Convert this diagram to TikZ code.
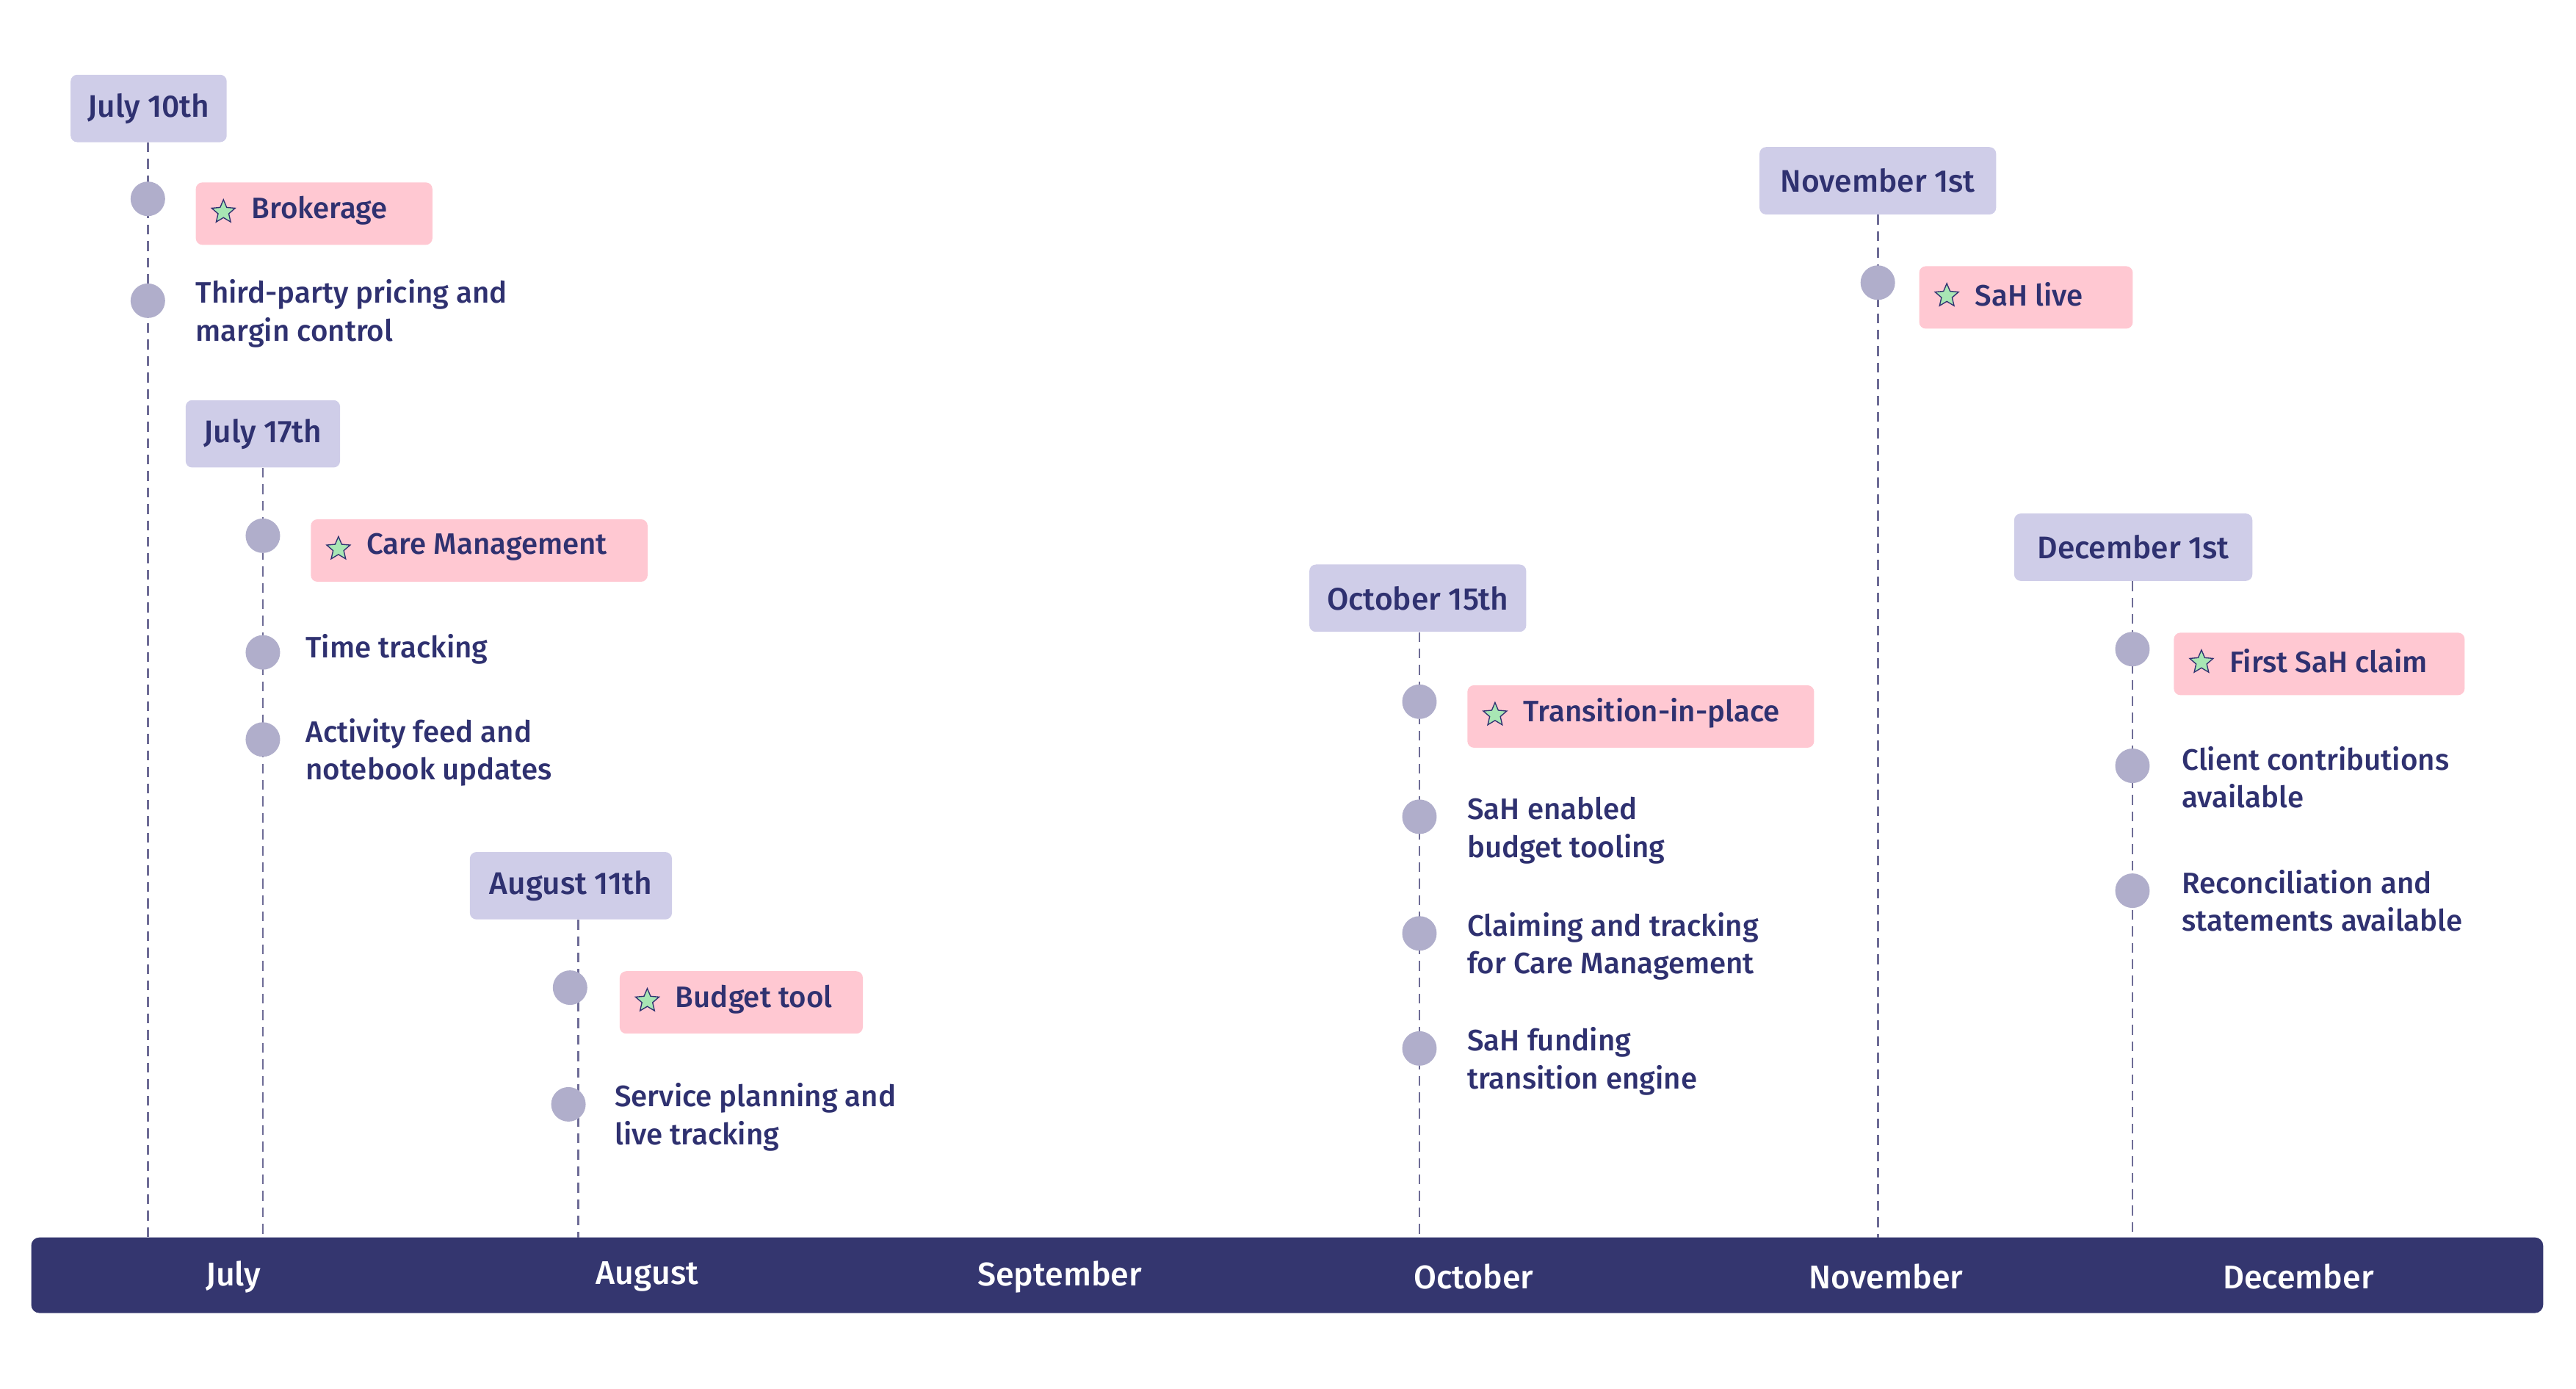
\documentclass[tikz,border=0pt]{standalone}
\usepackage{fontspec}
\setmainfont{Fira Sans}[UprightFont={* Medium},BoldFont={* SemiBold}]
\usetikzlibrary{shapes.geometric}
\definecolor{navy}{HTML}{34366F}
\definecolor{ink}{HTML}{2F3170}
\definecolor{datefill}{HTML}{CFCDE8}
\definecolor{pinkfill}{HTML}{FFC8D2}
\definecolor{dotc}{HTML}{B0AECB}
\definecolor{dashc}{HTML}{6E6C96}
\definecolor{starc}{HTML}{A8E6B4}
\begin{document}
\begin{tikzpicture}[x=1pt,y=-1pt,
  txt/.style={font=\fontsize{18}{23}\selectfont, text=ink, inner sep=0pt, align=left},
  date/.style={fill=datefill, rounded corners=4pt, font=\fontsize{19}{23}\selectfont, text=ink, minimum height=41pt, inner sep=0pt},
  pink/.style={fill=pinkfill, rounded corners=4pt, minimum height=38pt, anchor=west, inner sep=0pt},
  dot/.style={circle, fill=dotc, minimum size=21pt, inner sep=0pt},
  vline/.style={draw=dashc, line width=1.2pt, dash pattern=on 6pt off 4pt},
  starnode/.style={star, star points=5, star point ratio=2.2, fill=starc, draw=ink, line width=0.6pt, minimum size=15pt, inner sep=0pt},
  month/.style={font=\fontsize{20}{24}\selectfont, text=white}]
\useasboundingbox (0,0) rectangle (1568,845);
% bar
\node[fill=navy, rounded corners=5pt, minimum width=1529pt, minimum height=46pt, inner sep=0pt] (bar) at (783.5,776) {};
\foreach \m/\x [count=\i] in {July/142,August/394,September/645,October/897,November/1148,December/1399}
  \node[month] (m\i) at (\x,777) {\m};
% dates
\node[date, minimum width=95pt] (d1) at (90.5,66) {July 10th};
\node[date, minimum width=94pt] (d2) at (160,264) {July 17th};
\node[date, minimum width=123pt] (d3) at (347.5,539) {August 11th};
\node[date, minimum width=132pt] (d4) at (863,364) {October 15th};
\node[date, minimum width=144pt] (d5) at (1143,110) {November 1st};
\node[date, minimum width=145pt] (d6) at (1298.5,333) {December 1st};
\coordinate (b1) at (90,753); \coordinate (b2) at (160,753); \coordinate (b3) at (352,753);
\coordinate (b4) at (864,753); \coordinate (b5) at (1143,753); \coordinate (b6) at (1298,753);
\draw[vline] (d1.south -| b1) -- (b1);
\draw[vline] (d2.south -| b2) -- (b2);
\draw[vline] (d3.south -| b3) -- (b3);
\draw[vline] (d4.south -| b4) -- (b4);
\draw[vline] (d5.south -| b5) -- (b5);
\draw[vline] (d6.south -| b6) -- (b6);
% dots
\foreach \n/\x/\y in {p1/90/121,p2/90/183,p3/160/326,p4/160/397,p5/160/450,p6/347/601,p7/346/672,
  p8/864/427,p9/864/497,p10/864/568,p11/864/638,p12/1143/172,p13/1298/395,p14/1298/466,p15/1298/542}
  \node[dot] (\n) at (\x,\y) {};
% pink milestones
\foreach \n/\x/\y/\w/\t in {k1/119/130/144/Brokerage,k2/189/335/205/Care Management,k3/377/610/148/Budget tool,
  k4/893/436/211/Transition-in-place,k5/1168/181/130/SaH live,k6/1323/404/177/First SaH claim}{
  \node[pink, minimum width=\w pt] (\n) at (\x,\y) {};
  \node[starnode] (\n s) at (\x+17,\y-1) {};
  \node[txt, anchor=west] (\n t) at (\x+34,\y-2) {\t};
}
% text items
\node[txt, anchor=north west] (t1) at (119,170) {Third-party pricing and\\margin control};
\node[txt, anchor=west] (t2) at (186,395) {Time tracking};
\node[txt, anchor=north west] (t3) at (186,437) {Activity feed and\\notebook updates};
\node[txt, anchor=north west] (t4) at (374,659) {Service planning and\\live tracking};
\node[txt, anchor=north west] (t5) at (893,485) {SaH enabled\\budget tooling};
\node[txt, anchor=north west] (t6) at (893,555) {Claiming and tracking\\for Care Management};
\node[txt, anchor=north west] (t7) at (893,625) {SaH funding\\transition engine};
\node[txt, anchor=north west] (t8) at (1328,454) {Client contributions\\available};
\node[txt, anchor=north west] (t9) at (1328,529) {Reconciliation and\\statements available};
\end{tikzpicture}
\end{document}
